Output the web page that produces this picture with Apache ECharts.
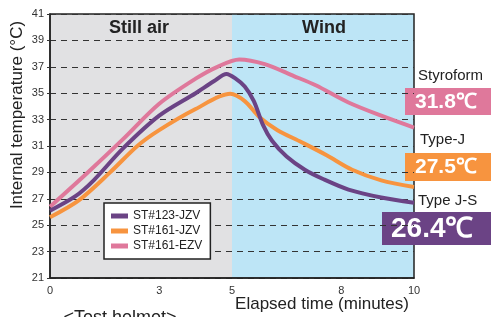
<!DOCTYPE html>
<html>
<head>
<meta charset="utf-8">
<script src="https://cdn.jsdelivr.net/npm/echarts@6/dist/echarts.min.js"></script>
<style>
html, body { margin: 0; padding: 0; background: #fff; }
#chart { width: 491px; height: 317px; }
</style>
</head>
<body>
<div id="chart"></div>
<script>
// readings: [minutes, °C]
const st123JZV = [[0, 26.1], [0.7, 27.2], [1.2, 28.4], [2, 30.8], [3, 33.3], [4, 35], [4.5, 35.9], [4.85, 36.45], [5.1, 36.1], [5.35, 35.5], [5.6, 34.4], [5.85, 32.6], [6.1, 31.4], [6.5, 30.2], [7, 29.2], [7.5, 28.5], [8.2, 27.7], [9.1, 27.1], [10, 26.7]];
const st161JZV = [[0, 25.6], [0.8, 26.9], [1.65, 29], [2.4, 31], [3, 32.2], [4, 33.8], [4.95, 34.95], [5.35, 34.4], [5.75, 33.2], [6.25, 32.2], [6.9, 31.3], [7.6, 30.3], [8.3, 29.2], [9.1, 28.4], [10, 27.9]];
const st161EZV = [[0, 26.4], [1, 28.9], [2, 31.5], [3, 34.2], [4, 36.1], [4.6, 37.0], [5.2, 37.55], [5.9, 37.2], [6.7, 36.3], [7.3, 35.6], [8.2, 34.3], [9.1, 33.3], [10, 32.4]];

const seriesNames = ['ST#123-JZV', 'ST#161-JZV', 'ST#161-EZV'];
const seriesColors = ['#6b4385', '#f7943f', '#df789b'];
const xTicks = [0, 3, 5, 8, 10];
const phaseNames = ['Still air', 'Wind'];
const helmetTypes = ['Type J-S', 'Type-J', 'Styroform'];
const finalTemps = ['26.4℃', '27.5℃', '31.8℃'];

let chart = echarts.init(document.getElementById('chart'));

const font = 'Liberation Sans, Arial, sans-serif';

function lineSeries(i, data, z) {
    return {
        name: seriesNames[i],
        type: 'line',
        data: data,
        smooth: 0.3,
        symbol: 'none',
        z: z,
        itemStyle: { color: seriesColors[i] },
        lineStyle: { color: seriesColors[i], width: 4 }
    };
}

let option = {
    backgroundColor: '#fff',
    animation: false,
    grid: {
        left: 50, right: 77, top: 14, bottom: 39,
        show: true,
        backgroundColor: 'transparent',
        borderColor: '#222',
        borderWidth: 1.5
    },
    legend: {
        orient: 'vertical',
        left: 104, top: 203,
        padding: [7, 8, 7, 7],
        backgroundColor: '#fff',
        borderColor: '#222',
        borderWidth: 1.5,
        borderRadius: 0,
        itemWidth: 17,
        itemHeight: 5,
        itemGap: 3,
        icon: 'rect',
        data: seriesNames,
        textStyle: { fontFamily: font, fontSize: 12, color: '#222' }
    },
    xAxis: [{
        type: 'value',
        min: 0, max: 10,
        axisLine: { lineStyle: { color: '#222', width: 1.5 } },
        axisTick: { show: false },
        splitLine: { show: false },
        axisLabel: {
            customValues: xTicks,
            fontFamily: font, fontSize: 11, color: '#333', margin: 7
        }
    }, {
        // only used to paint the two phase backgrounds
        type: 'value',
        min: 0, max: 10, interval: 5,
        position: 'top',
        z: -1,
        axisLine: { show: false },
        axisTick: { show: false },
        axisLabel: { show: false },
        splitLine: { show: false },
        splitArea: { show: true, areaStyle: { color: ['#e1e1e3', '#bde5f6'] } }
    }],
    yAxis: {
        type: 'value',
        min: 21, max: 41, interval: 2,
        axisLine: { show: true, lineStyle: { color: '#222', width: 1.5 } },
        axisTick: { show: true, length: 3, lineStyle: { color: '#333' } },
        splitLine: { lineStyle: { color: '#333', type: [6, 5], width: 1.2 } },
        axisLabel: { fontFamily: font, fontSize: 11, color: '#333', margin: 6 }
    },
    series: [
        lineSeries(1, st161JZV, 3),
        lineSeries(2, st161EZV, 4),
        lineSeries(0, st123JZV, 5)
    ],
    graphic: [
        { type: 'text', x: 139, y: 28, style: { text: phaseNames[0], font: 'bold 18px ' + font, fill: '#222', align: 'center', verticalAlign: 'middle' } },
        { type: 'text', x: 324, y: 28, style: { text: phaseNames[1], font: 'bold 18px ' + font, fill: '#222', align: 'center', verticalAlign: 'middle' } },
        { type: 'text', x: 17, y: 115, rotation: Math.PI / 2, style: { text: 'Internal temperature (°C)', font: '17px ' + font, fill: '#222', align: 'center', verticalAlign: 'middle' } },
        { type: 'text', x: 322, y: 304, style: { text: 'Elapsed time (minutes)', font: '17px ' + font, fill: '#222', align: 'center', verticalAlign: 'middle' } },
        { type: 'text', x: 120, y: 309, style: { text: '<Test helmet>', font: '18px ' + font, fill: '#222', align: 'center', verticalAlign: 'top' } },

        { type: 'text', x: 418, y: 83, style: { text: helmetTypes[2], font: '15px ' + font, fill: '#222', verticalAlign: 'bottom' } },
        { type: 'rect', shape: { x: 405, y: 88, width: 90, height: 27 }, style: { fill: seriesColors[2] } },
        { type: 'text', x: 415, y: 102, style: { text: finalTemps[2], font: 'bold 21px ' + font, fill: '#fff', verticalAlign: 'middle' } },

        { type: 'text', x: 420, y: 147, style: { text: helmetTypes[1], font: '15px ' + font, fill: '#222', verticalAlign: 'bottom' } },
        { type: 'rect', shape: { x: 405, y: 153, width: 90, height: 28 }, style: { fill: seriesColors[1] } },
        { type: 'text', x: 415, y: 167, style: { text: finalTemps[1], font: 'bold 21px ' + font, fill: '#fff', verticalAlign: 'middle' } },

        { type: 'text', x: 418, y: 208, style: { text: helmetTypes[0], font: '15px ' + font, fill: '#222', verticalAlign: 'bottom' } },
        { type: 'rect', shape: { x: 382, y: 212, width: 113, height: 33 }, style: { fill: seriesColors[0] } },
        { type: 'text', x: 391, y: 229, style: { text: finalTemps[0], font: 'bold 28px ' + font, fill: '#fff', verticalAlign: 'middle' } }
    ]
};

chart.setOption(option);
window.addEventListener('resize', () => {
    chart.resize();
});
</script>
</body>
</html>
